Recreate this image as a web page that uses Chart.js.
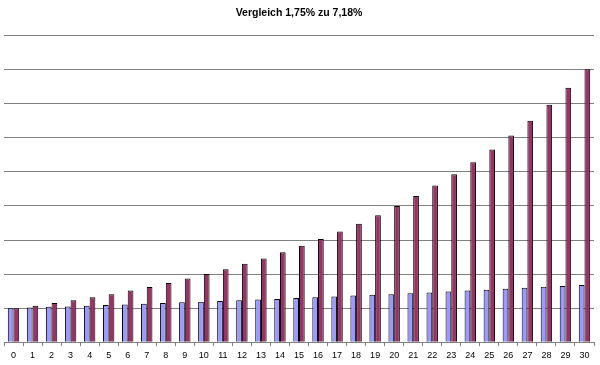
<!DOCTYPE html>
<html>
<head>
<meta charset="utf-8">
<script src="https://cdn.jsdelivr.net/npm/chart.js@4/dist/chart.umd.min.js"></script>
<style>
  html, body { margin: 0; padding: 0; background: #fff; }
  #wrap { width: 600px; height: 365px; }
</style>
</head>
<body>
<div id="wrap"><canvas id="c" width="600" height="365"></canvas></div>
<script>
/* ── Data ── */
const years = ['0','1','2','3','4','5','6','7','8','9','10','11','12','13','14','15',
               '16','17','18','19','20','21','22','23','24','25','26','27','28','29','30'];

const rate175 = [1.00, 1.02, 1.04, 1.05, 1.07, 1.09, 1.11, 1.13, 1.15, 1.17, 1.19,
                 1.21, 1.23, 1.25, 1.27, 1.30, 1.32, 1.34, 1.37, 1.39, 1.41,
                 1.44, 1.46, 1.49, 1.52, 1.54, 1.57, 1.60, 1.63, 1.65, 1.68];

const rate718 = [1.00, 1.07, 1.15, 1.23, 1.32, 1.41, 1.52, 1.62, 1.74, 1.87, 2.00,
                 2.14, 2.30, 2.46, 2.64, 2.83, 3.03, 3.25, 3.48, 3.73, 4.00,
                 4.29, 4.60, 4.93, 5.28, 5.66, 6.07, 6.50, 6.97, 7.47, 8.01];

const yMax = 9;

/* ── Chart ── */
new Chart(document.getElementById('c'), {
  type: 'bar',
  data: {
    labels: years,
    datasets: [
      { label: '1,75%', data: rate175, backgroundColor: '#9999ff', borderColor: '#000', borderWidth: 1 },
      { label: '7,18%', data: rate718, backgroundColor: '#993366', borderColor: '#000', borderWidth: 1 }
    ]
  },
  options: {
    responsive: false, animation: false,
    layout: { padding: { left: 4, right: 6, bottom: 0 } },
    datasets: { bar: { categoryPercentage: 0.6, barPercentage: 1.0 } },
    plugins: {
      legend: { display: false },
      tooltip: { enabled: false },
      title: {
        display: true, text: 'Vergleich 1,75% zu 7,18%', color: '#000',
        font: { family: 'Liberation Sans', size: 10.5, weight: 'bold' },
        padding: { top: 7, bottom: 16 }
      }
    },
    scales: {
      x: {
        grid: { offset: true, drawOnChartArea: false, color: '#808080', tickLength: 4 },
        border: { color: '#808080' },
        ticks: { color: '#000', font: { family: 'Liberation Sans', size: 9 }, padding: 4, maxRotation: 0, autoSkip: false }
      },
      y: {
        min: 0, max: yMax,
        grid: { color: '#808080', drawTicks: false },
        border: { display: false },
        ticks: { display: false, stepSize: 1 }
      }
    }
  }
});
</script>
</body>
</html>
